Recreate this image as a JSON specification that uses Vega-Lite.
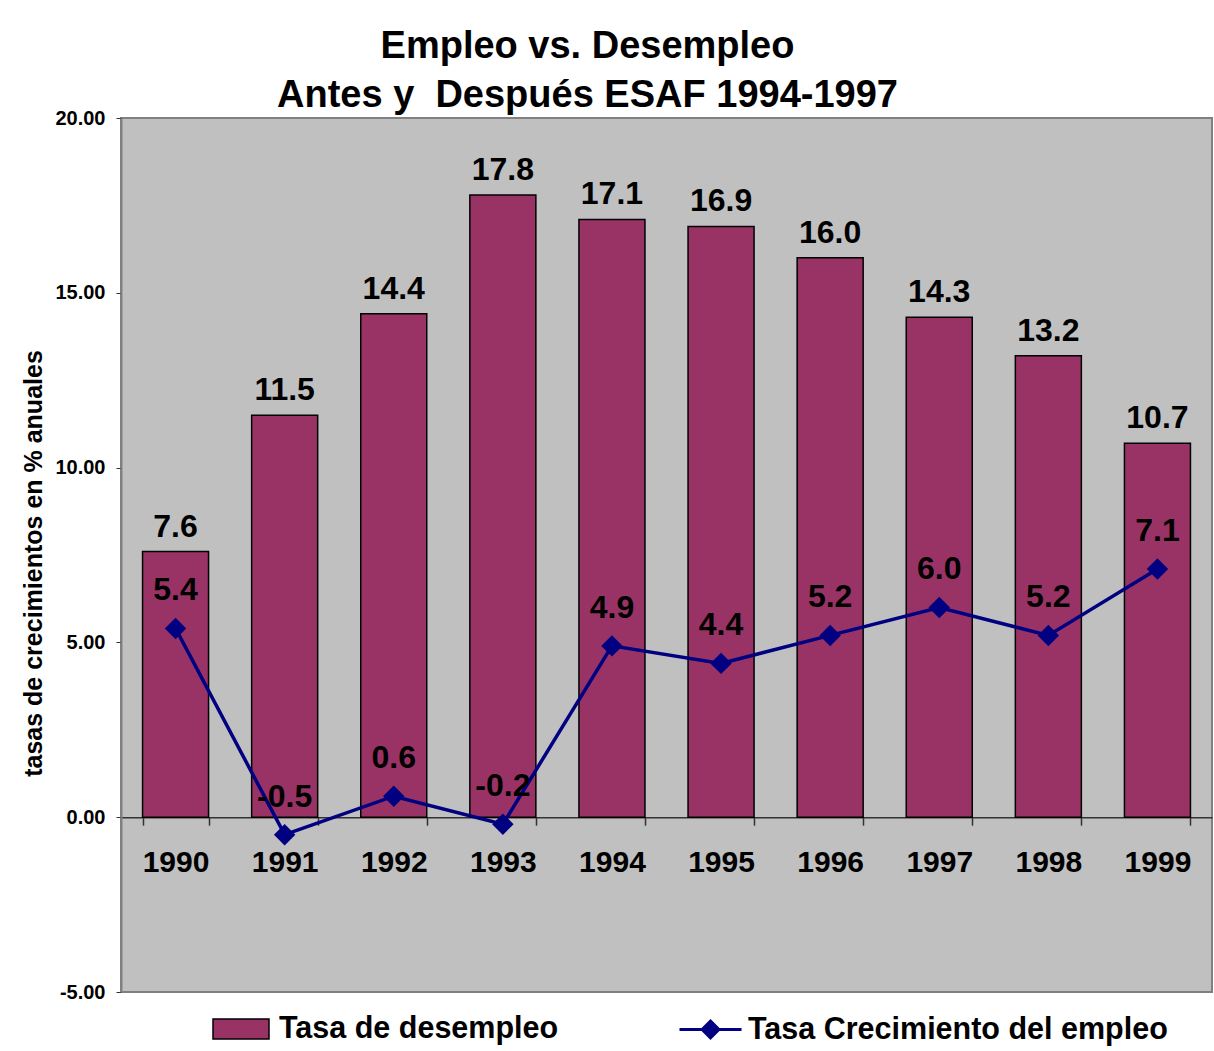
{
  "$schema": "https://vega.github.io/schema/vega-lite/v6.json",
  "width": 1091,
  "height": 874,
  "autosize": {"type": "none"},
  "padding": {"left": 121, "top": 118, "right": 2, "bottom": 59},
  "background": "white",
  "config": {
    "font": "Liberation Sans",
    "view": {"fill": "#C0C0C0", "stroke": "#808080", "strokeWidth": 2},
    "locale": {"number": {"decimal": ".", "thousands": ",", "grouping": [3], "currency": ["$", ""], "minus": "-"}}
  },
  "title": {
    "text": ["Empleo vs. Desempleo", "Antes y\u00a0 Después ESAF 1994-1997"],
    "fontSize": 38,
    "fontWeight": "bold",
    "color": "black",
    "lineHeight": 49,
    "anchor": "middle",
    "dx": -79,
    "baseline": "bottom",
    "offset": -45
  },
  "data": {
    "values": [
      {"year": "1990", "desempleo": 7.6, "empleo": 5.4},
      {"year": "1991", "desempleo": 11.5, "empleo": -0.5},
      {"year": "1992", "desempleo": 14.4, "empleo": 0.6},
      {"year": "1993", "desempleo": 17.8, "empleo": -0.2},
      {"year": "1994", "desempleo": 17.1, "empleo": 4.9},
      {"year": "1995", "desempleo": 16.9, "empleo": 4.4},
      {"year": "1996", "desempleo": 16.0, "empleo": 5.2},
      {"year": "1997", "desempleo": 14.3, "empleo": 6.0},
      {"year": "1998", "desempleo": 13.2, "empleo": 5.2},
      {"year": "1999", "desempleo": 10.7, "empleo": 7.1}
    ]
  },
  "encoding": {
    "x": {
      "field": "year",
      "type": "nominal",
      "scale": {"paddingInner": 0.395, "paddingOuter": 0.1975},
      "axis": {
        "title": null,
        "offset": -174.8,
        "labelAngle": 0,
        "labelFontSize": 30,
        "labelFontWeight": "bold",
        "labelColor": "black",
        "labelPadding": 22,
        "tickBand": "extent",
        "tickSize": 8,
        "tickColor": "#333333",
        "tickWidth": 1.5,
        "domainColor": "#333333",
        "domainWidth": 1.5
      }
    }
  },
  "layer": [
    {
      "mark": {"type": "bar", "stroke": "black", "strokeWidth": 1.5},
      "encoding": {
        "y": {
          "field": "desempleo",
          "type": "quantitative",
          "scale": {"domain": [-5, 20], "nice": false, "zero": false},
          "axis": {
            "title": "tasas de crecimientos en % anuales",
            "values": [-5, 0, 5, 10, 15, 20],
            "format": ".2f",
            "grid": false,
            "labelFontSize": 20,
            "labelFontWeight": "bold",
            "labelColor": "black",
            "labelPadding": 11,
            "tickSize": 5,
            "tickColor": "#333333",
            "domainColor": "#808080",
            "domainWidth": 2,
            "titleFontSize": 25,
            "titleFontWeight": "bold",
            "titleColor": "black",
            "titlePadding": 8,
            "titleY": 445
          }
        },
        "fill": {
          "datum": "Tasa de desempleo",
          "scale": {"range": ["#993366"]},
          "legend": {
            "orient": "none",
            "legendX": 91,
            "legendY": 882,
            "title": null,
            "padding": 0,
            "symbolType": "M-1,-0.357H1V0.357H-1Z",
            "symbolSize": 3136,
            "symbolStrokeColor": "black",
            "symbolStrokeWidth": 1.5,
            "labelFontSize": 30.5,
            "labelFontWeight": "bold",
            "labelColor": "black",
            "labelOffset": 9,
            "labelLimit": 700
          }
        }
      }
    },
    {
      "mark": {"type": "line", "strokeWidth": 3.5},
      "encoding": {
        "y": {"field": "empleo", "type": "quantitative", "title": "tasas de crecimientos en % anuales", "scale": {"domain": [-5, 20], "nice": false, "zero": false}},
        "stroke": {
          "datum": "Tasa Crecimiento del empleo",
          "scale": {"range": ["#000080"]},
          "legend": {
            "orient": "none",
            "legendX": 557,
            "legendY": 879,
            "title": null,
            "padding": 0,
            "symbolType": "M-1,0H1M0,-0.27L0.27,0L0,0.27L-0.27,0Z",
            "symbolSize": 3844,
            "symbolStrokeWidth": 3,
            "symbolFillColor": "#000080",
            "labelFontSize": 30.5,
            "labelFontWeight": "bold",
            "labelColor": "black",
            "labelOffset": 5,
            "labelLimit": 700,
            "encode": {"symbols": {"update": {"fill": {"value": "#000080"}, "stroke": {"value": "#000080"}, "strokeWidth": {"value": 3}}}}
          }
        }
      }
    },
    {
      "mark": {"type": "point", "shape": "diamond", "filled": true, "size": 460, "color": "#000080", "opacity": 1},
      "encoding": {
        "y": {"field": "empleo", "type": "quantitative", "title": "tasas de crecimientos en % anuales", "scale": {"domain": [-5, 20], "nice": false, "zero": false}}
      }
    },
    {
      "mark": {"type": "text", "fontSize": 32, "fontWeight": "bold", "color": "black", "baseline": "middle", "dy": -25},
      "encoding": {
        "y": {"field": "desempleo", "type": "quantitative", "title": "tasas de crecimientos en % anuales", "scale": {"domain": [-5, 20], "nice": false, "zero": false}},
        "text": {"field": "desempleo", "type": "quantitative", "format": ".1f"}
      }
    },
    {
      "mark": {"type": "text", "fontSize": 32, "fontWeight": "bold", "color": "black", "baseline": "middle", "dy": -38},
      "encoding": {
        "y": {"field": "empleo", "type": "quantitative", "title": "tasas de crecimientos en % anuales", "scale": {"domain": [-5, 20], "nice": false, "zero": false}},
        "text": {"field": "empleo", "type": "quantitative", "format": ".1f"}
      }
    }
  ]
}
